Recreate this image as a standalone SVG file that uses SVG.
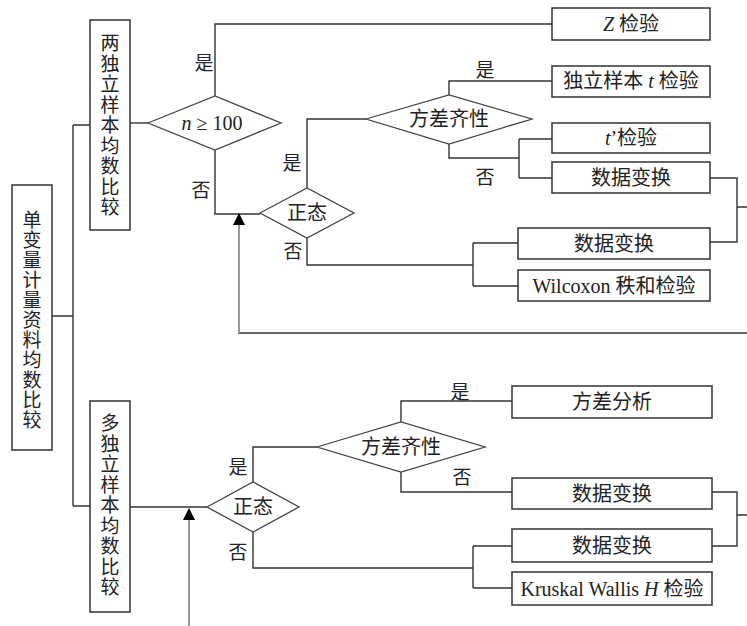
<svg xmlns="http://www.w3.org/2000/svg" width="747" height="626" viewBox="0 0 747 626">
<defs>
<style>
.t{font-family:"Liberation Serif","DejaVu Serif","Noto Sans CJK SC",serif;font-size:20px;fill:#222;text-anchor:middle}
.l{font-family:"Liberation Serif","DejaVu Serif","Noto Sans CJK SC",serif;font-size:19px;fill:#222;text-anchor:middle}
.v{font-family:"Liberation Serif","DejaVu Serif","Noto Sans CJK SC",serif;font-size:19px;fill:#222;text-anchor:middle}
.box{fill:#fff;stroke:#333;stroke-width:1.5}
.dia{fill:#fff;stroke:#444;stroke-width:1.3}
.ln{fill:none;stroke:#333;stroke-width:1.4}
.gr{fill:none;stroke:#999;stroke-width:2}
.rt{fill:none;stroke:#666;stroke-width:2}
.i{font-style:italic}
</style>
</defs>

<g id="connectors">
<path class="ln" d="M52,316 H73 M73,125 V506 M73,125 H90 M73,506 H90"/>
<path class="ln" d="M130,123 H148"/>
<path class="ln" d="M215,96 V24 H552"/>
<path class="ln" d="M215,150 V214 H260"/>
<path class="ln" d="M307,188 V119 H366"/>
<path class="ln" d="M449,95 V81 H552"/>
<path class="ln" d="M449,144 V158 H519 M519,139 V178 M519,139 H552 M519,178 H552"/>
<path class="ln" d="M307,238 V265 H473 M473,243 V286 M473,243 H518 M473,286 H518"/>
<path class="ln" d="M710,178 H737 V242 H710 M737,207 H747"/>
<path class="rt" d="M747,333 H238"/>
<path class="gr" d="M239,333 V224"/>
<path d="M233,225 L239,213 L245,225 Z" fill="#000"/>
<path class="ln" d="M130,507 H207"/>
<path class="ln" d="M253,482 V447 H317"/>
<path class="ln" d="M401,422 V401 H512"/>
<path class="ln" d="M401,472 V492 H512"/>
<path class="ln" d="M253,532 V568 H473 M473,546 V588 M473,546 H512 M473,588 H512"/>
<path class="ln" d="M712,492 H737 V546 H712 M737,515 H747"/>
<path class="gr" d="M189,626 V519"/>
<path d="M183,520 L189,508 L195,520 Z" fill="#000"/>
</g>

<g id="root">
<rect class="box" x="12" y="185" width="40" height="265"/>
<text class="v"><tspan x="32" y="227">单</tspan><tspan x="32" y="247">变</tspan><tspan x="32" y="267">量</tspan><tspan x="32" y="287">计</tspan><tspan x="32" y="307">量</tspan><tspan x="32" y="327">资</tspan><tspan x="32" y="347">料</tspan><tspan x="32" y="367">均</tspan><tspan x="32" y="387">数</tspan><tspan x="32" y="407">比</tspan><tspan x="32" y="427">较</tspan></text>
</g>

<g id="two-sample">
<rect class="box" x="90" y="20" width="40" height="210"/>
<text class="v"><tspan x="110" y="50">两</tspan><tspan x="110" y="70.5">独</tspan><tspan x="110" y="91">立</tspan><tspan x="110" y="111.5">样</tspan><tspan x="110" y="132">本</tspan><tspan x="110" y="152.5">均</tspan><tspan x="110" y="173">数</tspan><tspan x="110" y="193.5">比</tspan><tspan x="110" y="214">较</tspan></text>
</g>

<g id="multi-sample">
<rect class="box" x="90" y="401" width="40" height="211"/>
<text class="v"><tspan x="110" y="430">多</tspan><tspan x="110" y="450.5">独</tspan><tspan x="110" y="471">立</tspan><tspan x="110" y="491.5">样</tspan><tspan x="110" y="512">本</tspan><tspan x="110" y="532.5">均</tspan><tspan x="110" y="553">数</tspan><tspan x="110" y="573.5">比</tspan><tspan x="110" y="594">较</tspan></text>
</g>

<g id="n100">
<polygon class="dia" points="148,123 215,96 281,123 215,150"/>
<text class="t" x="212" y="130"><tspan class="i">n</tspan> ≥ 100</text>
</g>

<g id="normal1">
<polygon class="dia" points="260,213 307,188 354,213 307,238"/>
<text class="t" x="307" y="220">正态</text>
</g>

<g id="var1">
<polygon class="dia" points="366,119 449,95 532,119 449,144"/>
<text class="t" x="449" y="126">方差齐性</text>
</g>

<g id="ztest">
<rect class="box" x="552" y="8" width="158" height="32"/>
<text class="t" x="631" y="31"><tspan class="i">Z</tspan> 检验</text>
</g>
<g id="ttest">
<rect class="box" x="552" y="66" width="158" height="31"/>
<text class="t" x="631" y="88">独立样本 <tspan class="i">t</tspan> 检验</text>
</g>
<g id="tprime">
<rect class="box" x="552" y="123" width="158" height="30"/>
<text class="t" x="631" y="145"><tspan class="i">t</tspan>’检验</text>
</g>
<g id="transform1">
<rect class="box" x="552" y="162" width="158" height="31"/>
<text class="t" x="631" y="185">数据变换</text>
</g>
<g id="transform2">
<rect class="box" x="518" y="228" width="192" height="31"/>
<text class="t" x="614" y="251">数据变换</text>
</g>
<g id="wilcoxon">
<rect class="box" x="518" y="270" width="192" height="31"/>
<text class="t" x="614" y="293">Wilcoxon 秩和检验</text>
</g>

<g id="normal2">
<polygon class="dia" points="207,507 253,482 299,507 253,532"/>
<text class="t" x="253" y="514">正态</text>
</g>
<g id="var2">
<polygon class="dia" points="317,447 401,422 485,447 401,472"/>
<text class="t" x="401" y="454">方差齐性</text>
</g>
<g id="anova">
<rect class="box" x="512" y="386" width="200" height="32"/>
<text class="t" x="612" y="409">方差分析</text>
</g>
<g id="transform3">
<rect class="box" x="512" y="478" width="200" height="31"/>
<text class="t" x="612" y="501">数据变换</text>
</g>
<g id="transform4">
<rect class="box" x="512" y="529" width="200" height="33"/>
<text class="t" x="612" y="553">数据变换</text>
</g>
<g id="kruskal">
<rect class="box" x="512" y="572" width="200" height="33"/>
<text class="t" x="612" y="596">Kruskal Wallis <tspan class="i">H</tspan> 检验</text>
</g>

<g id="labels">
<text class="l" x="204" y="70">是</text>
<text class="l" x="201" y="197">否</text>
<text class="l" x="292" y="170">是</text>
<text class="l" x="293" y="258">否</text>
<text class="l" x="485" y="77">是</text>
<text class="l" x="485" y="184">否</text>
<text class="l" x="460" y="399">是</text>
<text class="l" x="462" y="484">否</text>
<text class="l" x="238" y="474">是</text>
<text class="l" x="238" y="559">否</text>
</g>
</svg>
